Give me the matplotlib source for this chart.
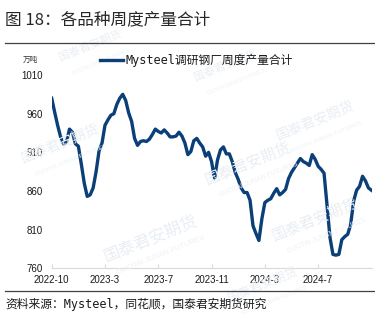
import matplotlib
matplotlib.use("Agg")
import matplotlib.pyplot as plt
from matplotlib.lines import Line2D

plt.rcParams['font.family'] = ['Liberation Sans', 'Noto Sans CJK SC', 'DejaVu Sans']

# Weekly output, 10k tonnes
output = [
    980, 962, 945, 930, 921, 923, 940, 936, 921, 918,
    895, 870, 853, 855, 864, 885, 912, 922, 945, 952,
    958, 960, 972, 980, 985, 977, 961, 950, 928, 919,
    924, 925, 924, 927, 933, 940, 937, 935, 939, 935,
    930, 930, 931, 936, 931, 922, 907, 911, 925, 928,
    922, 917, 905, 910, 898, 876, 900, 913, 917, 908,
    908, 898, 884, 875, 864, 858, 858, 848, 815, 805,
    796, 824, 845, 848, 850, 857, 863, 855, 858, 862,
    876, 884, 890, 896, 902, 898, 896, 893, 907, 901,
    892, 888, 883, 842, 800, 778, 777, 778, 797, 801,
    804, 817, 847, 861, 866, 879, 873, 864, 861,
]
tick_labels = ['2022-10', '2023-3', '2023-7', '2023-11', '2024-3', '2024-7']
tick_step = 18
y_ticks = [760, 810, 860, 910, 960, 1010]

title = '图 18：各品种周度产量合计'
series_name = 'Mysteel调研钢厂周度产量合计'
unit = '万吨'
source = '资料来源：Mysteel，同花顺，国泰君安期货研究'

line_color = '#0b3f78'

fig = plt.figure(figsize=(3.75, 3.27), dpi=100)

# faint brand watermarks behind everything
wm = [(0.24, 0.86, 8), (0.60, 0.80, 8), (0.16, 0.56, 10), (0.40, 0.27, 12),
      (0.66, 0.50, 11), (0.84, 0.63, 10), (0.84, 0.33, 11), (0.70, 0.13, 9)]
for x, y, s in wm:
    fig.text(x, y, '国泰君安期货', fontsize=s, color='#e9eef4', rotation=22,
             ha='center', va='center', family=['Noto Sans CJK SC'], zorder=0)
    fig.text(x + 0.03, y - 0.05, 'GUOTAI JUNAN FUTURES', fontsize=s * 0.45,
             color='#edf1f6', rotation=22, ha='center', va='center', zorder=0)

ax = fig.add_axes([51.7 / 375, 1 - 268.3 / 327, (372 - 51.7) / 375, (268.3 - 75) / 327])
ax.patch.set_alpha(0)
x = list(range(len(output)))
ax.plot(x, output, color=line_color, lw=2.4, solid_joinstyle='round', zorder=3)

ax.set_xlim(0, 108.2)
ax.set_ylim(760, 1010)
ax.set_yticks(y_ticks)
ax.set_xticks([i * tick_step for i in range(len(tick_labels))])
ax.set_xticklabels(tick_labels)
for s in ['top', 'right', 'left']:
    ax.spines[s].set_visible(False)
ax.spines['bottom'].set_color('#d9d9d9')
ax.spines['bottom'].set_linewidth(0.8)
ax.tick_params(axis='x', direction='in', length=3, color='#d9d9d9', labelsize=7,
               pad=5, labelcolor='#1a1a1a')
ax.tick_params(axis='y', length=0, labelsize=7, pad=6.5, labelcolor='#1a1a1a')

# title and rules
fig.text(5 / 375, 1 - 20 / 327, title, fontsize=12, color='#262626',
         ha='left', va='center', family=['Noto Sans CJK SC'])
fig.add_artist(Line2D([5 / 375, 1], [1 - 42.7 / 327] * 2, color='#404040', lw=0.9))
fig.add_artist(Line2D([5 / 375, 1], [1 - 290.5 / 327] * 2, color='#404040', lw=0.9))

# unit and legend
fig.text(23 / 375, 1 - 60 / 327, unit, fontsize=5.5, color='#333333',
         ha='left', va='center', family=['Noto Sans CJK SC'])
fig.add_artist(Line2D([100 / 375, 123 / 375], [1 - 60 / 327] * 2, color=line_color, lw=2.4))
fig.text(125 / 375, 1 - 60 / 327, series_name, fontsize=8.5, color='#1a1a1a',
         ha='left', va='center', family=['DejaVu Sans Mono', 'Noto Sans CJK SC'])

fig.text(5 / 375, 1 - 304 / 327, source, fontsize=8.5, color='#1a1a1a',
         ha='left', va='center', family=['DejaVu Sans Mono', 'Noto Sans CJK SC'])

fig.savefig('out.png', dpi=100)
